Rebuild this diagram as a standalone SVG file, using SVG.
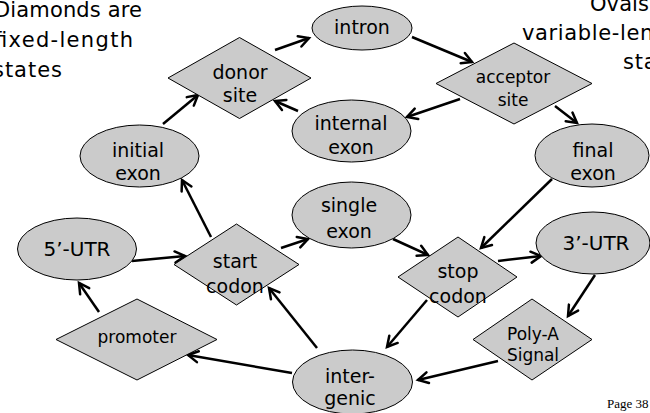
<svg xmlns="http://www.w3.org/2000/svg" width="650" height="413" viewBox="0 0 650 413">
<defs>
<marker id="ah" markerUnits="userSpaceOnUse" markerWidth="20" markerHeight="20" viewBox="-14 -10 20 20" refX="0" refY="0" orient="auto" overflow="visible">
<path d="M-10,-5.5 L0,0 L-10,5.5" fill="none" stroke="#000" stroke-width="2.5" stroke-linecap="round" stroke-linejoin="miter"/>
</marker>
</defs>
<style>
.s{fill:#cbcbcb;stroke:#000;stroke-width:1}
.t{font-family:"DejaVu Sans",sans-serif;font-size:19px;fill:#000;text-anchor:middle}
.sm{font-size:17px}
.big{font-size:20px}
.cap{font-family:"DejaVu Sans",sans-serif;font-size:21px;fill:#000}
.c line{stroke:#000;stroke-width:2.5;marker-end:url(#ah)}
</style>
<rect width="650" height="413" fill="#fff"/>

<g id="caption-left">
<text class="cap" x="-6" y="17" textLength="148" lengthAdjust="spacing">Diamonds are</text>
<text class="cap" x="-6" y="47" textLength="139" lengthAdjust="spacing">fixed-length</text>
<text class="cap" x="-7" y="77" textLength="69" lengthAdjust="spacing">states</text>
</g>
<g id="caption-right">
<text class="cap" x="590" y="11" textLength="100" lengthAdjust="spacing">Ovals are</text>
<text class="cap" x="522" y="40" textLength="168" lengthAdjust="spacing">variable-length</text>
<text class="cap" x="623" y="69" textLength="68" lengthAdjust="spacing">states</text>
</g>

<g id="connectors" class="c">
<line x1="163" y1="124" x2="198" y2="95"/>
<line x1="275" y1="50" x2="309" y2="38"/>
<line x1="412" y1="37" x2="472" y2="62"/>
<line x1="460" y1="99" x2="407" y2="117"/>
<line x1="298" y1="111" x2="275" y2="101"/>
<line x1="555" y1="106" x2="577" y2="123"/>
<line x1="552" y1="179" x2="481" y2="248"/>
<line x1="211" y1="237" x2="182" y2="180"/>
<line x1="132" y1="261" x2="185" y2="256"/>
<line x1="281" y1="248" x2="308" y2="239"/>
<line x1="393" y1="239" x2="428" y2="255"/>
<line x1="498" y1="261" x2="541" y2="256"/>
<line x1="595" y1="275" x2="568" y2="316"/>
<line x1="99" y1="312" x2="79" y2="283"/>
<line x1="317" y1="348" x2="269" y2="288"/>
<line x1="292" y1="373" x2="188" y2="355"/>
<line x1="427" y1="300" x2="387" y2="347"/>
<line x1="498" y1="361" x2="418" y2="380"/>
</g>

<g id="intron">
<ellipse class="s" cx="362" cy="28" rx="50" ry="22"/>
<text class="t" x="362" y="34">intron</text>
</g>
<g id="donor-site">
<polygon class="s" points="168,78 239.5,37.5 311,78 239.5,118.5"/>
<text class="t" x="240" y="79">donor</text>
<text class="t" x="240" y="102">site</text>
</g>
<g id="acceptor-site">
<polygon class="s" points="436,83.5 514,43 592,83.5 514,124"/>
<text class="t sm" x="513" y="83">acceptor</text>
<text class="t sm" x="513" y="106">site</text>
</g>
<g id="internal-exon">
<ellipse class="s" cx="351.5" cy="131" rx="59.5" ry="31"/>
<text class="t" x="351" y="130">internal</text>
<text class="t" x="351" y="154">exon</text>
</g>
<g id="initial-exon">
<ellipse class="s" cx="139.5" cy="156" rx="59.5" ry="31"/>
<text class="t" x="138" y="157">initial</text>
<text class="t" x="138" y="180">exon</text>
</g>
<g id="final-exon">
<ellipse class="s" cx="592" cy="155.5" rx="57" ry="31.5"/>
<text class="t" x="593" y="157">final</text>
<text class="t" x="593" y="180">exon</text>
</g>
<g id="utr5">
<ellipse class="s" cx="77" cy="249" rx="59.5" ry="31"/>
<text class="t big" x="77" y="256">5’-UTR</text>
</g>
<g id="start-codon">
<polygon class="s" points="174,264.5 236.5,224 299,264.5 236.5,305"/>
<text class="t" x="235" y="268">start</text>
<text class="t" x="235" y="293">codon</text>
</g>
<g id="single-exon">
<ellipse class="s" cx="351.5" cy="215" rx="59.5" ry="33"/>
<text class="t" x="349" y="212">single</text>
<text class="t" x="349" y="238">exon</text>
</g>
<g id="stop-codon">
<polygon class="s" points="398,277 458,237 517,277 458,317"/>
<text class="t" x="458" y="278">stop</text>
<text class="t" x="458" y="303">codon</text>
</g>
<g id="utr3">
<ellipse class="s" cx="593" cy="243" rx="57" ry="31"/>
<text class="t big" x="596" y="250">3’-UTR</text>
</g>
<g id="promoter">
<polygon class="s" points="56,339.5 137,299 217,339.5 137,380"/>
<text class="t sm" x="137" y="343">promoter</text>
</g>
<g id="poly-a-signal">
<polygon class="s" points="473,339.5 532,299 592,339.5 532,380"/>
<text class="t sm" x="533" y="340">Poly-A</text>
<text class="t sm" x="533" y="361">Signal</text>
</g>
<g id="intergenic">
<ellipse class="s" cx="352.5" cy="382" rx="60" ry="32"/>
<text class="t" x="350" y="383">inter-</text>
<text class="t" x="350" y="405">genic</text>
</g>

<text x="607" y="408" font-family="'Liberation Serif',serif" font-size="13" fill="#000">Page 38</text>
</svg>
